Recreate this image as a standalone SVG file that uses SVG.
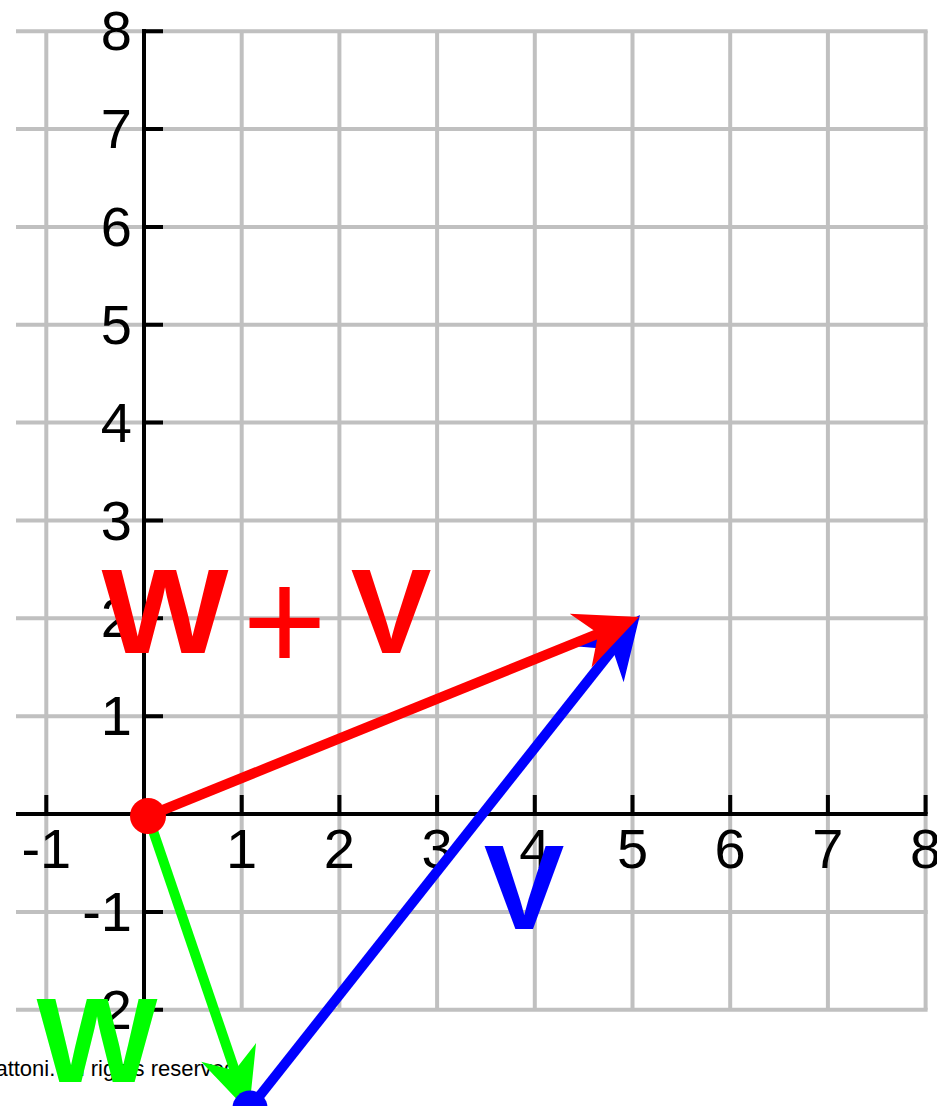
<svg xmlns="http://www.w3.org/2000/svg" width="937" height="1106" viewBox="0 0 937 1106">
<style>
.grid{stroke:#c0c0c0;stroke-width:4;fill:none}
.axis{stroke:#000;stroke-width:4;fill:none}
.lbl{font-family:"Liberation Sans",Arial,sans-serif;font-size:56px;fill:#000}
.xl{text-anchor:middle}
.yl{text-anchor:end}
.big{font-family:"Liberation Sans",Arial,sans-serif;font-weight:bold;font-size:121px}
.vec{stroke-width:10;fill:none}
</style>
<defs>
<marker id="ahR" markerUnits="userSpaceOnUse" orient="auto" refX="0" refY="0" markerWidth="10" markerHeight="10" overflow="visible"><path d="M42,0 L-21,-29 L-2,0 L-21,29 Z" fill="#ff0000"/></marker>
<marker id="ahB" markerUnits="userSpaceOnUse" orient="auto" refX="0" refY="0" markerWidth="10" markerHeight="10" overflow="visible"><path d="M42,0 L-21,-29 L-2,0 L-21,29 Z" fill="#0000ff"/></marker>
<marker id="ahG" markerUnits="userSpaceOnUse" orient="auto" refX="0" refY="0" markerWidth="10" markerHeight="10" overflow="visible"><path d="M42,0 L-21,-29 L-2,0 L-21,29 Z" fill="#00ff00"/></marker>
</defs>
<rect width="937" height="1106" fill="#fff"/>
<g id="grid" class="grid">
<path d="M46.3,31V1009.7M241.7,31V1009.7M339.4,31V1009.7M437.1,31V1009.7M534.8,31V1009.7M632.5,31V1009.7M730.2,31V1009.7M827.9,31V1009.7M925.6,31V1009.7"/>
<path d="M16,31.2H927.6M16,129H927.6M16,226.9H927.6M16,324.7H927.6M16,422.6H927.6M16,520.5H927.6M16,618.3H927.6M16,716.2H927.6M16,911.9H927.6M16,1009.7H927.6"/>
</g>
<g id="axes" class="axis">
<path d="M144,29V1011.7M16,814H927.6"/>
<path d="M144,31.2H163M144,129H163M144,226.9H163M144,324.7H163M144,422.6H163M144,520.5H163M144,618.3H163M144,716.2H163M144,911.9H163M144,1009.7H163"/>
<path d="M46.3,814V795M241.7,814V795M339.4,814V795M437.1,814V795M534.8,814V795M632.5,814V795M730.2,814V795M827.9,814V795M925.6,814V795"/>
</g>
<g id="xlabels" class="lbl xl">
<text x="46.3" y="868">-1</text>
<text x="241.7" y="868">1</text>
<text x="339.4" y="868">2</text>
<text x="437.1" y="868">3</text>
<text x="534.8" y="868">4</text>
<text x="632.5" y="868">5</text>
<text x="730.2" y="868">6</text>
<text x="827.9" y="868">7</text>
<text x="925.6" y="868">8</text>
</g>
<g id="ylabels" class="lbl yl">
<text x="132" y="50.2">8</text>
<text x="132" y="148">7</text>
<text x="132" y="245.9">6</text>
<text x="132" y="343.7">5</text>
<text x="132" y="441.6">4</text>
<text x="132" y="539.5">3</text>
<text x="132" y="637.3">2</text>
<text x="132" y="735.2">1</text>
<text x="132" y="930.9">-1</text>
<text x="132" y="1028.7">-2</text>
</g>
<text id="copyright" x="-4.6" y="1076" font-family="Liberation Sans, Arial, sans-serif" font-size="22" fill="#000">attoni. All rights reserved.</text>
<g id="connectors">
<line class="vec" x1="148" y1="816" x2="235.4" y2="1072.3" stroke="#00ff00" marker-end="url(#ahG)"/>
<line class="vec" x1="250" y1="1108" x2="613.9" y2="647.9" stroke="#0000ff" marker-end="url(#ahB)"/>
<line class="vec" x1="148" y1="816" x2="600.1" y2="632.8" stroke="#ff0000" marker-end="url(#ahR)"/>
</g>
<g id="point-w-end"><circle cx="250" cy="1108" r="17.5" fill="#0000ff"/></g>
<g id="origin"><circle cx="148" cy="816" r="18" fill="#ff0000"/></g>
<g id="label-wv" fill="#ff0000">
<text class="big" x="101.5" y="653" textLength="127" lengthAdjust="spacingAndGlyphs">W</text>
<text x="284.5" y="671" text-anchor="middle" font-family="Liberation Sans, Arial, sans-serif" font-size="144">+</text>
<text class="big" x="391" y="653" text-anchor="middle">V</text>
</g>
<g id="label-v"><text class="big" x="524" y="929" text-anchor="middle" fill="#0000ff">V</text></g>
<g id="label-w"><text class="big" x="36.5" y="1082" textLength="121" lengthAdjust="spacingAndGlyphs" fill="#00ff00">W</text></g>
</svg>
